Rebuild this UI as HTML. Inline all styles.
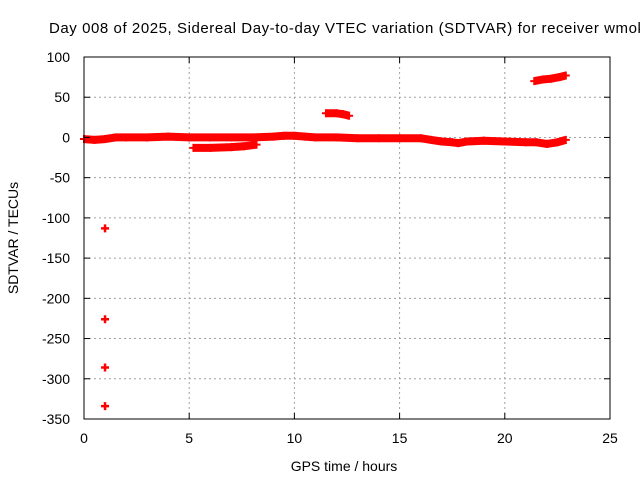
<!DOCTYPE html>
<html><head><meta charset="utf-8"><style>
body{margin:0;background:#fff}
svg{display:block;font-family:"Liberation Sans",sans-serif}
</style></head><body>
<svg id="chart" width="640" height="480" xmlns="http://www.w3.org/2000/svg">
<rect width="640" height="480" fill="#fff"/>
<text x="49" y="33" font-size="15" textLength="596" lengthAdjust="spacing">Day 008 of 2025, Sidereal Day-to-day VTEC variation (SDTVAR) for receiver wmok</text>
<g id="grid"></g>
<g id="data"></g>
<rect x="84" y="57" width="526" height="362" fill="none" stroke="#000" stroke-width="1"/>
<g id="axes"></g>
<text x="344" y="471" font-size="14" text-anchor="middle">GPS time / hours</text>
<text x="18" y="238" font-size="14" text-anchor="middle" transform="rotate(-90 18 238)">SDTVAR / TECUs</text>
</svg>
<script>
const xTicks=[0,5,10,15,20,25];
const yTicks=[100,50,0,-50,-100,-150,-200,-250,-300,-350];
const mainT=[0,0.5,1,1.5,2,3,4,5,6,7,8,9,9.5,10,10.5,11,12,13,14,15,16,16.5,17,17.5,17.8,18.2,19,20,21,21.5,22,22.5,22.9];
const mainV=[-2,-3,-2,0,0,0,1,0,0,0,0,1,2,2,1,0,0,-1,-1,-1,-1,-3,-5,-6,-7,-5,-4,-5,-6,-6,-8,-6,-3];
const lowT=[5.2,6,7,7.6,8.2];
const lowV=[-13,-13,-12,-11,-9];
const midT=[11.5,12,12.3,12.6];
const midV=[30,30,29,27];
const highT=[21.4,21.8,22.2,22.6,22.9];
const highV=[70,72,73,75,77];
const outT=[1,1,1,1];
const outV=[-113,-226,-286,-334];
const X=h=>84+h*526/25;
const Y=v=>57+(100-v)*362/450;
const NS="http://www.w3.org/2000/svg";
function mk(t,a,p){const e=document.createElementNS(NS,t);for(const k in a)e.setAttribute(k,a[k]);p.appendChild(e);return e;}
const g=document.getElementById('grid'),ax=document.getElementById('axes'),d=document.getElementById('data');
xTicks.forEach(t=>{const x=X(t);
 if(t>0&&t<25){const l=mk('line',{x1:x,x2:x,y1:57,y2:419,stroke:'#a0a0a0','stroke-dasharray':'2,3'},g);}
 mk('line',{x1:x,x2:x,y1:419,y2:413,stroke:'#000'},ax);mk('line',{x1:x,x2:x,y1:57,y2:63,stroke:'#000'},ax);
 const tx=mk('text',{x:x,y:443,'font-size':14,'text-anchor':'middle'},ax);tx.textContent=t;
 });
yTicks.forEach(t=>{const y=Y(t);
 if(t<100&&t>-350){const l=mk('line',{x1:84,x2:610,y1:y,y2:y,stroke:'#a0a0a0','stroke-dasharray':'2,3'},g);}
 mk('line',{x1:84,x2:90,y1:y,y2:y,stroke:'#000'},ax);mk('line',{x1:604,x2:610,y1:y,y2:y,stroke:'#000'},ax);
 const tx=mk('text',{x:70,y:y+5,'font-size':14,'text-anchor':'end'},ax);tx.textContent=t;
 });
function series(T,V,name){
 const p=T.map((t,i)=>X(t).toFixed(1)+','+Y(V[i]).toFixed(1)).join(' ');
 const pl=mk('polyline',{points:p,fill:'none',stroke:'#f00','stroke-width':8,'stroke-linejoin':'round'},d);
 
 
 T.forEach((t,i)=>{const x=X(t),y=Y(V[i]);
  const m=mk('path',{d:`M${x-4},${y}h8M${x},${y-4}v8`,stroke:'#f00','stroke-width':2},d);
  
  });
}
series(mainT,mainV,'main-series');
series(lowT,lowV,'low-segment');
series(midT,midV,'mid-segment');
series(highT,highV,'high-segment');
outT.forEach((t,i)=>{const x=X(t),y=Y(outV[i]);
 const m=mk('path',{d:`M${x-4},${y}h8M${x},${y-4}v8`,stroke:'#f00','stroke-width':2.5},d);
 
 });
</script>
</body></html>
